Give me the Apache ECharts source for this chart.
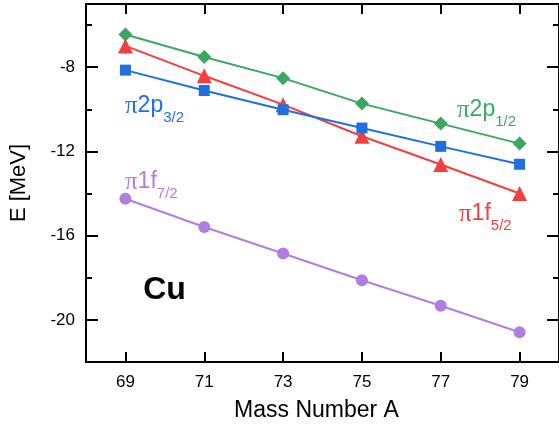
<!DOCTYPE html>
<html>
<head>
<meta charset="utf-8">
<script src="https://cdn.jsdelivr.net/npm/echarts@6/dist/echarts.min.js"></script>
<style>
html,body{margin:0;padding:0;background:#fff;}
#chart{width:559px;height:427px;}
</style>
</head>
<body>
<div id="chart"></div>
<script>
const massNumbers = [69, 71, 73, 75, 77, 79];
const p12Values = [-6.45, -7.52, -8.52, -9.73, -10.68, -11.63];
const f52Values = [-6.99, -8.41, -9.78, -11.28, -12.62, -14.0];
const p32Values = [-8.14, -9.11, -10.02, -10.89, -11.76, -12.61];
const f72Values = [-14.25, -15.59, -16.85, -18.12, -19.33, -20.59];
const xTickValues = [69, 71, 73, 75, 77, 79];
const yMajorTicks = [-20, -16, -12, -8];
const yMinorTicks = [-18, -14, -10, -6];

const FONT = 'Liberation Sans, Arial, sans-serif';
const SERIF = 'Liberation Serif, DejaVu Serif, serif';
const colors = {green: '#3aa860', red: '#f0403f', blue: '#1f6fdc', purple: '#b07ee0'};

function pairs(vals) { return massNumbers.map((m, i) => [m, vals[i]]); }

function mkSeries(name, vals, color, symbol, size) {
  return {
    name, type: 'line', data: pairs(vals), symbol, symbolSize: size,
    lineStyle: {color, width: 2}, itemStyle: {color}, z: 3
  };
}

function richLabel(main, sub, color, x, y) {
  return {
    type: 'text', x, y, z: 10,
    style: {
      text: '{p|π}{m|' + main + '}{s|' + sub + '}',
      fill: color,
      rich: {
        p: {fontFamily: SERIF, fontSize: 25, lineHeight: 26, fill: color},
        m: {fontFamily: FONT, fontSize: 23, lineHeight: 26, fill: color},
        s: {fontFamily: FONT, fontSize: 15, lineHeight: 17, fill: color, padding: [24, 0, 0, 0]}
      }
    }
  };
}

const axisLineStyle = {color: '#000', width: 2};
const chart = echarts.init(document.getElementById('chart'));
const yBase = {type: 'value', min: -22, max: -5, splitLine: {show: false}, gridIndex: 0};
chart.setOption({
  animation: false,
  grid: {left: 82, top: 4, right: -3, bottom: 64},
  xAxis: [
    {
      type: 'value', min: 68, max: 80, position: 'bottom',
      name: 'Mass Number A', nameLocation: 'middle', nameGap: 37,
      nameTextStyle: {fontFamily: FONT, fontSize: 23, color: '#000', padding: [0, 12, 0, 0]},
      axisLine: {lineStyle: axisLineStyle},
      axisTick: {inside: true, length: 10, customValues: xTickValues, lineStyle: {color: '#000', width: 2}},
      axisLabel: {customValues: xTickValues, margin: 12, fontFamily: FONT, fontSize: 17, color: '#000'},
      splitLine: {show: false}
    },
    {
      type: 'value', min: 68, max: 80, position: 'top',
      axisLine: {lineStyle: axisLineStyle},
      axisTick: {inside: true, length: 10, customValues: xTickValues, lineStyle: {color: '#000', width: 2}},
      axisLabel: {show: false},
      splitLine: {show: false}
    }
  ],
  yAxis: [
    Object.assign({}, yBase, {
      position: 'left',
      name: 'E [MeV]', nameLocation: 'middle', nameGap: 56, nameRotate: 90,
      nameTextStyle: {fontFamily: FONT, fontSize: 22, color: '#000'},
      axisLine: {show: true, lineStyle: axisLineStyle},
      axisTick: {show: true, inside: true, length: 12, customValues: yMajorTicks, lineStyle: {color: '#000', width: 2}},
      axisLabel: {customValues: yMajorTicks, margin: 11, fontFamily: FONT, fontSize: 17, color: '#000'}
    }),
    Object.assign({}, yBase, {
      position: 'left', offset: 0,
      axisLine: {show: false},
      axisTick: {show: true, inside: true, length: 6, customValues: yMinorTicks, lineStyle: {color: '#000', width: 2}},
      axisLabel: {show: false}
    }),
    Object.assign({}, yBase, {
      position: 'right', offset: 0,
      axisLine: {show: true, lineStyle: axisLineStyle},
      axisTick: {show: true, inside: true, length: 12, customValues: yMajorTicks, lineStyle: {color: '#000', width: 2}},
      axisLabel: {show: false}
    }),
    Object.assign({}, yBase, {
      position: 'right', offset: 0,
      axisLine: {show: false},
      axisTick: {show: true, inside: true, length: 6, customValues: yMinorTicks, lineStyle: {color: '#000', width: 2}},
      axisLabel: {show: false}
    })
  ],
  series: [
    mkSeries('π2p1/2', p12Values, colors.green, 'diamond', 14),
    mkSeries('π1f5/2', f52Values, colors.red, 'triangle', 15),
    mkSeries('π2p3/2', p32Values, colors.blue, 'rect', 11),
    mkSeries('π1f7/2', f72Values, colors.purple, 'circle', 12)
  ],
  graphic: [
    richLabel('2p', '3/2', colors.blue, 125, 93),
    richLabel('1f', '7/2', colors.purple, 125, 169),
    richLabel('2p', '1/2', colors.green, 457, 97),
    richLabel('1f', '5/2', colors.red, 459, 201),
    {type: 'text', x: 164.5, y: 290, z: 10,
     style: {text: 'Cu', fontFamily: FONT, fontSize: 32, fontWeight: 'bold', fill: '#000', align: 'center', verticalAlign: 'middle'}}
  ]
});
</script>
</body>
</html>
